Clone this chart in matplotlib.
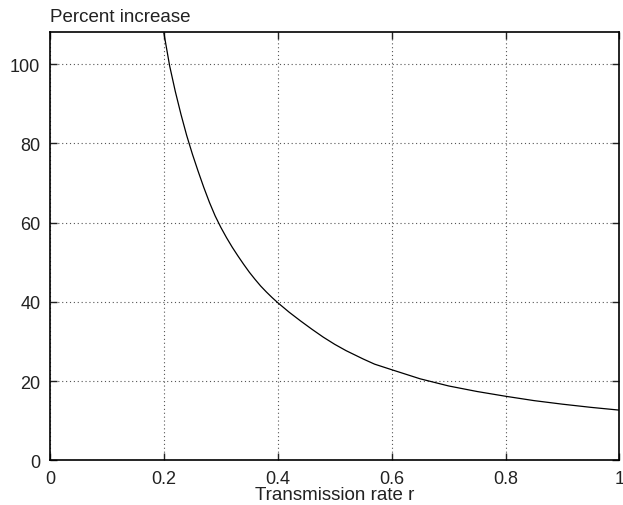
import matplotlib
matplotlib.use("Agg")
import matplotlib.pyplot as plt

# values
rate = [0.20, 0.21, 0.22, 0.23, 0.24, 0.25, 0.26, 0.27, 0.28, 0.29, 0.30,
        0.31, 0.32, 0.33, 0.34, 0.35, 0.36, 0.37, 0.38, 0.39, 0.40,
        0.42, 0.44, 0.46, 0.48, 0.50, 0.52, 0.55, 0.57, 0.60,
        0.65, 0.70, 0.75, 0.80, 0.85, 0.90, 0.95, 1.00]
increase = [107.8, 99.6, 93.1, 87.3, 82.0, 77.3, 73.0, 68.9, 65.1, 61.7, 58.8,
            56.2, 53.8, 51.6, 49.5, 47.5, 45.7, 44.0, 42.5, 41.1, 39.8,
            37.4, 35.2, 33.1, 31.1, 29.3, 27.7, 25.6, 24.3, 22.9,
            20.6, 18.8, 17.4, 16.2, 15.1, 14.2, 13.4, 12.7]
xticks = [0, 0.2, 0.4, 0.6, 0.8, 1]
xticklabels = ['0', '0.2', '0.4', '0.6', '0.8', '1']
yticks = [0, 20, 40, 60, 80, 100]

plt.rcParams['font.family'] = ['Liberation Sans', 'DejaVu Sans']

fig = plt.figure(figsize=(6.23, 5.06), dpi=100)
ax = fig.add_axes([0.0803, 0.088, 0.914, 0.846])

ax.plot(rate, increase, color='black', lw=0.9)

ax.set_xlim(0, 1)
ax.set_ylim(0, 108)
ax.set_xticks(xticks)
ax.set_xticklabels(xticklabels)
ax.set_yticks(yticks)
ax.grid(True, linestyle=(0, (1, 2.5)), color='#555555', lw=0.8)
ax.tick_params(direction='in', length=5, width=1, top=True, right=True,
               labelsize=13, colors='#222222', pad=7)
ax.tick_params(axis='y', pad=7)
for s in ax.spines.values():
    s.set_linewidth(1.2)

ax.set_xlabel('Transmission rate r', fontsize=13.5, labelpad=-1, color='#222222')
fig.text(0.0803, 0.948, 'Percent increase', fontsize=13.5, color='#222222',
         ha='left', va='bottom')

plt.savefig('out.png', dpi=100)
